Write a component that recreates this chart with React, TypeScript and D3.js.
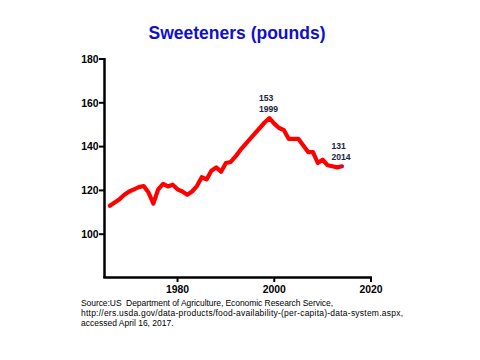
import React from "react";
import * as d3 from "d3";

const years: number[] = [
  1966, 1967, 1968, 1969, 1970, 1971, 1972, 1973, 1974, 1975,
  1976, 1977, 1978, 1979, 1980, 1981, 1982, 1983, 1984, 1985,
  1986, 1987, 1988, 1989, 1990, 1991, 1992, 1993, 1994, 1995,
  1996, 1997, 1998, 1999, 2000, 2001, 2002, 2003, 2004, 2005,
  2006, 2007, 2008, 2009, 2010, 2011, 2012, 2013, 2014,
];
const pounds: number[] = [
  113, 114.5, 116, 118, 119.5, 120.5, 121.5, 122, 119, 114,
  120.5, 123, 121.8, 122.6, 120.5, 119.5, 118, 119.5, 122, 126,
  125, 129, 130.5, 128.5, 132.5, 133, 135.5, 138.5, 141, 143.5,
  146, 148.5, 151, 153, 150.5, 148.5, 147.5, 143.5, 143.5, 143.5,
  140.5, 137.5, 137.5, 132.5, 134, 131.5, 131, 130.5, 131,
];
const xTicks: number[] = [1980, 2000, 2020];
const yTicks: number[] = [100, 120, 140, 160, 180];
const title = "Sweeteners (pounds)";
const annotations = [
  { year: 1999, value: 153, lines: ["153", "1999"] },
  { year: 2014, value: 131, lines: ["131", "2014"] },
];
const sourceLines: string[] = [
  "Source:US\u00a0\u00a0Department of Agriculture, Economic Research Service,",
  "http://ers.usda.gov/data-products/food-availability-(per-capita)-data-system.aspx,",
  "accessed April 16, 2017.",
];
const sourceWidths: (number | undefined)[] = [252, 322, undefined];

const FONT = "'Liberation Sans', Arial, Helvetica, sans-serif";

export default function App() {
  const x = d3.scaleLinear().domain([1965, 2020]).range([105, 371]);
  const y = d3.scaleLinear().domain([80, 180]).range([278, 59]);
  const data = years.map((yr, i) => ({ yr, v: pounds[i] }));
  const line = d3
    .line<{ yr: number; v: number }>()
    .x((d) => x(d.yr))
    .y((d) => y(d.v));
  const last = data[data.length - 1];

  return (
    <svg
      width={480}
      height={360}
      style={{ position: "fixed", left: 0, top: 0, background: "#fff" }}
      fontFamily={FONT}
    >
      <rect x={0} y={0} width={480} height={360} fill="#fff" />
      <text
        x={237}
        y={39}
        textAnchor="middle"
        fontSize={17.5}
        fontWeight="bold"
        fill="#1010CC"
      >
        {title}
      </text>

      {/* y axis */}
      <line x1={104.5} x2={104.5} y1={y(180) - 1} y2={y(80)} stroke="#000" strokeWidth={2.5} />
      {yTicks.map((t) => (
        <g key={t}>
          <line x1={99} x2={104} y1={y(t)} y2={y(t)} stroke="#000" strokeWidth={2} />
          <text
            x={98.5}
            y={y(t) + 3.7}
            textAnchor="end"
            fontSize={10.4}
            fontWeight="bold"
            fill="#000"
          >
            {t}
          </text>
        </g>
      ))}

      {/* x axis */}
      <line x1={103.3} x2={x(2020) + 1} y1={277.5} y2={277.5} stroke="#000" strokeWidth={2.5} />
      {xTicks.map((t) => (
        <g key={t}>
          <line x1={x(t)} x2={x(t)} y1={277} y2={282} stroke="#000" strokeWidth={2} />
          <text
            x={x(t)}
            y={292.5}
            textAnchor="middle"
            fontSize={10.4}
            fontWeight="bold"
            fill="#000"
          >
            {t}
          </text>
        </g>
      ))}

      <path
        d={line(data) || ""}
        fill="none"
        stroke="#FF0000"
        strokeWidth={4.2}
        strokeLinejoin="round"
        strokeLinecap="round"
      />
      <circle cx={x(last.yr)} cy={y(last.v)} r={1} fill="#3030FF" />

      {annotations.map((a) => (
        <text
          key={a.year}
          y={y(a.value) - 17.5}
          fontSize={8.6}
          fontWeight="bold"
          fill="#1a2440"
        >
          <tspan x={x(a.year) - 10.5}>{a.lines[0]}</tspan>
          <tspan x={x(a.year) - 10.5} dy={11}>
            {a.lines[1]}
          </tspan>
        </text>
      ))}

      {sourceLines.map((s, i) => (
        <text
          key={i}
          x={81}
          y={306 + i * 10.2}
          fontSize={8.5}
          fill="#000"
          textLength={sourceWidths[i]}
          lengthAdjust={sourceWidths[i] ? "spacing" : undefined}
        >
          {s}
        </text>
      ))}
    </svg>
  );
}
